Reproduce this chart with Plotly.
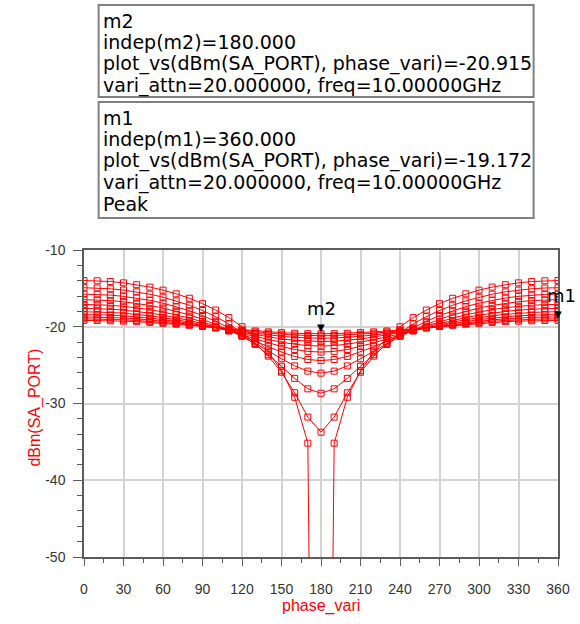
import plotly.graph_objects as go

# Swept phase of the variable phase shifter (degrees)
PHASE_VARI = list(range(0, 361, 10))

# Attenuator settings of the sweep (dB)
VARI_ATTN = [0, 2, 4, 6, 8, 10, 12, 14, 16, 18, 20]

# dBm(SA_PORT) at freq = 10 GHz, one list per vari_attn setting
DBM_ATTN_00 = [-13.98, -14.01, -14.11, -14.28, -14.52, -14.83, -15.23, -15.71, -16.29, -16.99,
               -17.82, -18.81, -20.00, -21.46, -23.30, -25.72, -29.19, -35.17, -200.0,
               -35.17, -29.19, -25.72, -23.30, -21.46, -20.00, -18.81, -17.82, -16.99,
               -16.29, -15.71, -15.23, -14.83, -14.52, -14.28, -14.11, -14.01, -13.98]
DBM_ATTN_02 = [-14.92, -14.95, -15.05, -15.22, -15.45, -15.76, -16.15, -16.63, -17.20, -17.88,
               -18.68, -19.64, -20.77, -22.15, -23.83, -25.93, -28.60, -31.77, -33.74,
               -31.77, -28.60, -25.93, -23.83, -22.15, -20.77, -19.64, -18.68, -17.88,
               -17.20, -16.63, -16.15, -15.76, -15.45, -15.22, -15.05, -14.95, -14.92]
DBM_ATTN_04 = [-15.75, -15.78, -15.88, -16.04, -16.26, -16.56, -16.93, -17.38, -17.91, -18.54,
               -19.28, -20.15, -21.15, -22.31, -23.65, -25.15, -26.73, -28.09, -28.66,
               -28.09, -26.73, -25.15, -23.65, -22.31, -21.15, -20.15, -19.28, -18.54,
               -17.91, -17.38, -16.93, -16.56, -16.26, -16.04, -15.88, -15.78, -15.75]
DBM_ATTN_06 = [-16.47, -16.50, -16.59, -16.74, -16.95, -17.22, -17.56, -17.98, -18.46, -19.03,
               -19.68, -20.42, -21.25, -22.17, -23.16, -24.17, -25.10, -25.78, -26.04,
               -25.78, -25.10, -24.17, -23.16, -22.17, -21.25, -20.42, -19.68, -19.03,
               -18.46, -17.98, -17.56, -17.22, -16.95, -16.74, -16.59, -16.50, -16.47]
DBM_ATTN_08 = [-17.09, -17.12, -17.20, -17.33, -17.52, -17.77, -18.08, -18.44, -18.87, -19.36,
               -19.91, -20.52, -21.19, -21.89, -22.61, -23.29, -23.87, -24.27, -24.41,
               -24.27, -23.87, -23.29, -22.61, -21.89, -21.19, -20.52, -19.91, -19.36,
               -18.87, -18.44, -18.08, -17.77, -17.52, -17.33, -17.20, -17.12, -17.09]
DBM_ATTN_10 = [-17.61, -17.64, -17.71, -17.83, -18.00, -18.22, -18.49, -18.81, -19.17, -19.59,
               -20.04, -20.54, -21.06, -21.59, -22.11, -22.58, -22.96, -23.21, -23.30,
               -23.21, -22.96, -22.58, -22.11, -21.59, -21.06, -20.54, -20.04, -19.59,
               -19.17, -18.81, -18.49, -18.22, -18.00, -17.83, -17.71, -17.64, -17.61]
DBM_ATTN_12 = [-18.05, -18.07, -18.14, -18.24, -18.39, -18.58, -18.81, -19.08, -19.39, -19.73,
               -20.11, -20.50, -20.91, -21.31, -21.69, -22.02, -22.28, -22.45, -22.51,
               -22.45, -22.28, -22.02, -21.69, -21.31, -20.91, -20.50, -20.11, -19.73,
               -19.39, -19.08, -18.81, -18.58, -18.39, -18.24, -18.14, -18.07, -18.05]
DBM_ATTN_14 = [-18.42, -18.44, -18.49, -18.58, -18.71, -18.87, -19.07, -19.29, -19.55, -19.83,
               -20.13, -20.44, -20.76, -21.06, -21.34, -21.59, -21.77, -21.89, -21.93,
               -21.89, -21.77, -21.59, -21.34, -21.06, -20.76, -20.44, -20.13, -19.83,
               -19.55, -19.29, -19.07, -18.87, -18.71, -18.58, -18.49, -18.44, -18.42]
DBM_ATTN_16 = [-18.72, -18.74, -18.78, -18.86, -18.97, -19.10, -19.27, -19.46, -19.67, -19.89,
               -20.13, -20.38, -20.62, -20.85, -21.07, -21.25, -21.38, -21.47, -21.50,
               -21.47, -21.38, -21.25, -21.07, -20.85, -20.62, -20.38, -20.13, -19.89,
               -19.67, -19.46, -19.27, -19.10, -18.97, -18.86, -18.78, -18.74, -18.72]
DBM_ATTN_18 = [-18.97, -18.98, -19.02, -19.09, -19.18, -19.29, -19.42, -19.58, -19.75, -19.93,
               -20.12, -20.32, -20.51, -20.69, -20.85, -20.98, -21.08, -21.15, -21.17,
               -21.15, -21.08, -20.98, -20.85, -20.69, -20.51, -20.32, -20.12, -19.93,
               -19.75, -19.58, -19.42, -19.29, -19.18, -19.09, -19.02, -18.98, -18.97]
DBM_ATTN_20 = [-19.17, -19.18, -19.22, -19.27, -19.34, -19.44, -19.55, -19.67, -19.81, -19.96,
               -20.11, -20.26, -20.41, -20.55, -20.67, -20.77, -20.85, -20.90, -20.915,
               -20.90, -20.85, -20.77, -20.67, -20.55, -20.41, -20.26, -20.11, -19.96,
               -19.81, -19.67, -19.55, -19.44, -19.34, -19.27, -19.22, -19.18, -19.172]

SERIES = [DBM_ATTN_00, DBM_ATTN_02, DBM_ATTN_04, DBM_ATTN_06, DBM_ATTN_08, DBM_ATTN_10,
          DBM_ATTN_12, DBM_ATTN_14, DBM_ATTN_16, DBM_ATTN_18, DBM_ATTN_20]

# Markers m1 / m2 (on the vari_attn = 20 trace)
M2_PHASE, M2_VAL = 180, -20.915
M1_PHASE, M1_VAL = 360, -19.172

X_TICKS = list(range(0, 361, 30))
Y_TICKS = [-50, -40, -30, -20, -10]

M2_TEXT = ["m2", "indep(m2)=180.000", "plot_vs(dBm(SA_PORT), phase_vari)=-20.915",
           "vari_attn=20.000000, freq=10.00000GHz"]
M1_TEXT = ["m1", "indep(m1)=360.000", "plot_vs(dBm(SA_PORT), phase_vari)=-19.172",
           "vari_attn=20.000000, freq=10.00000GHz", "Peak"]

RED = "#ff0000"
AXIS = "#5c5c5c"
GRID = "#d3d3d3"
FONT = "Liberation Sans, Arial, sans-serif"
READOUT_FONT = "DejaVu Sans"

fig = go.Figure()
for attn, vals in zip(VARI_ATTN, SERIES):
    fig.add_trace(go.Scatter(
        x=PHASE_VARI, y=vals, mode="lines+markers",
        name=f"vari_attn={attn}",
        line=dict(color=RED, width=1),
        marker=dict(symbol="square-open", size=6, color=RED, line=dict(width=1, color=RED)),
        showlegend=False,
    ))

W, H = 580, 624
ML, MR, MT, MB = 84, 10, 250, 67
PW, PH = W - ML - MR, H - MT - MB


def px_x(p):
    return (p - ML) / PW


def px_y(p):
    return (H - MB - p) / PH


annotations = []
shapes = []

# marker triangles and names
for name, xv, yv, dx, anchor in [("m2", M2_PHASE, M2_VAL, 0, "center"),
                                  ("m1", M1_PHASE, M1_VAL, -13, "left")]:
    annotations.append(dict(x=xv, y=yv, xref="x", yref="y", text="▼", showarrow=False,
                            font=dict(family="DejaVu Sans", size=10, color="#000000"),
                            yshift=6, xanchor="center", yanchor="middle"))
    annotations.append(dict(x=xv, y=yv, xref="x", yref="y", text=name, showarrow=False,
                            font=dict(family=READOUT_FONT, size=18, color="#000000"),
                            xshift=dx, yshift=25, xanchor=anchor, yanchor="middle"))

# marker readout boxes: frame plus one text row per line
BOX_LEFT, BOX_RIGHT, ROW = 99, 545, 21.4
for lines, top, bottom in [(M2_TEXT, 5, 97), (M1_TEXT, 102, 218)]:
    shapes.append(dict(type="rect", xref="paper", yref="paper",
                       x0=px_x(BOX_LEFT), x1=px_x(BOX_RIGHT), y0=px_y(bottom), y1=px_y(top),
                       line=dict(color="#808080", width=2), fillcolor="#ffffff", layer="above"))
    for i, line in enumerate(lines):
        annotations.append(dict(
            x=px_x(BOX_LEFT + 2), y=px_y(top + 16 + i * ROW), xref="paper", yref="paper",
            xanchor="left", yanchor="middle", align="left", showarrow=False,
            text=line, font=dict(family=READOUT_FONT, size=19, color="#000000"),
        ))

# axis titles
annotations.append(dict(x=px_x(327), y=px_y(617), xref="paper", yref="paper",
                        text="phase_vari", showarrow=False,
                        font=dict(family=FONT, size=16, color=RED)))
annotations.append(dict(x=px_x(22), y=px_y(408), xref="paper", yref="paper",
                        text="dBm(SA_PORT)", textangle=-90, showarrow=False,
                        font=dict(family=FONT, size=16, color=RED)))

fig.update_layout(
    width=W, height=H,
    margin=dict(l=ML, r=MR, t=MT, b=MB, pad=0),
    paper_bgcolor="#ffffff", plot_bgcolor="#ffffff",
    font=dict(family=FONT, size=14, color="#333333"),
    annotations=annotations, shapes=shapes,
    showlegend=False,
)
fig.update_xaxes(
    range=[0, 360], tickmode="array", tickvals=X_TICKS, ticktext=[str(v) for v in X_TICKS],
    showgrid=True, gridcolor=GRID, gridwidth=1.5, zeroline=False,
    showline=True, linecolor=AXIS, linewidth=1.5, mirror=True,
    ticks="outside", ticklen=7, tickwidth=1, tickcolor=AXIS, ticklabelstandoff=11,
    minor=dict(dtick=15, tick0=0, ticks="outside", ticklen=4, tickcolor=AXIS, showgrid=False),
    tickfont=dict(size=14, color="#333333"),
)
fig.update_yaxes(
    range=[-50, -10], tickmode="array", tickvals=Y_TICKS, ticktext=[str(v) for v in Y_TICKS],
    showgrid=True, gridcolor=GRID, gridwidth=1.5, zeroline=False,
    showline=True, linecolor=AXIS, linewidth=1.5, mirror=True,
    ticks="outside", ticklen=9, tickwidth=1, tickcolor=AXIS, ticklabelstandoff=5,
    minor=dict(dtick=2, tick0=-50, ticks="outside", ticklen=5, tickcolor=AXIS, showgrid=False),
    tickfont=dict(size=14, color="#333333"),
)

fig.write_html("out.html")
